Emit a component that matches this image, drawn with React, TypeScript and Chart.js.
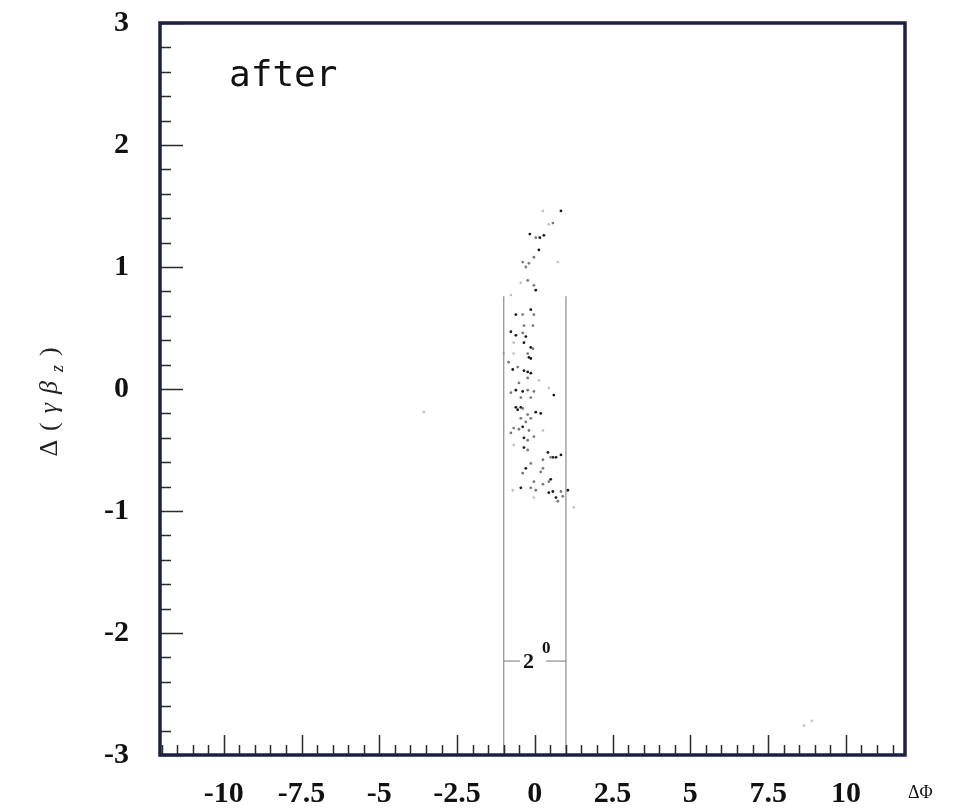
import { useEffect, useRef } from "react";
import { Chart, registerables } from "chart.js";

Chart.register(...registerables);

// ---- axis ranges & ticks ----
const xMin = -12.05;
const xMax = 11.9;
const yMin = -3;
const yMax = 3;
const xTickLabels = [-10, -7.5, -5, -2.5, 0, 2.5, 5, 7.5, 10];
const yTickLabels = [-3, -2, -1, 0, 1, 2, 3];
const xMajorStep = 2.5;
const xMinorStep = 0.5;
const yMajorStep = 1;
const yMinorStep = 0.2;

// ---- scatter points (ΔΦ, Δ(γβz)), grouped by print darkness ----
const darkPoints: [number, number][] = [
  [0.84, 1.46], [-0.16, 1.27], [0.16, 1.24], [0.29, 1.26], [0.13, 1.14], [0.03, 0.81],
  [-0.13, 0.65], [-0.61, 0.61], [-0.77, 0.47], [-0.61, 0.44], [-0.29, 0.43], [-0.35, 0.38],
  [-0.13, 0.34], [-0.19, 0.26], [-0.13, 0.25], [-0.71, 0.16], [-0.35, 0.15], [-0.23, 0.14],
  [-0.13, 0.13], [-0.61, -0.01], [-0.39, -0.02], [0.61, -0.05], [-0.61, -0.15], [-0.45, -0.15],
  [-0.55, -0.17], [0.03, -0.19], [0.19, -0.2], [-0.39, -0.31], [-0.35, -0.4], [-0.35, -0.48],
  [0.42, -0.52], [0.58, -0.56], [0.68, -0.56], [0.84, -0.54], [-0.29, -0.65], [0.51, -0.74],
  [-0.45, -0.81], [0.45, -0.85], [0.58, -0.84], [0.68, -0.89], [1.06, -0.83],
];
const midPoints: [number, number][] = [
  [0.58, 1.36], [0.03, 1.24], [-0.03, 1.08], [-0.39, 1.04], [-0.19, 1.03], [-0.29, 1.0],
  [-0.23, 0.89], [-0.03, 0.85], [-0.39, 0.61], [-0.03, 0.61], [-0.35, 0.52], [-0.06, 0.52],
  [-0.39, 0.46], [-0.06, 0.33], [-0.23, 0.29], [-0.84, 0.22], [-0.55, 0.18], [-0.23, 0.09],
  [-0.51, 0.05], [-0.23, -0.01], [-0.03, -0.02], [-0.77, -0.03], [-0.45, -0.07], [-0.13, -0.07],
  [-0.39, -0.16], [-0.23, -0.21], [-0.45, -0.24], [-0.29, -0.27], [-0.13, -0.24], [-0.68, -0.32],
  [-0.51, -0.33], [-0.77, -0.36], [-0.19, -0.34], [-0.23, -0.42], [-0.03, -0.39], [-0.23, -0.5],
  [0.51, -0.56], [0.26, -0.58], [-0.13, -0.61], [0.26, -0.65], [-0.39, -0.69], [0.19, -0.68],
  [0.45, -0.76], [-0.03, -0.76], [0.26, -0.78], [-0.13, -0.81], [0.03, -0.83], [0.84, -0.84],
  [0.9, -0.88], [0.74, -0.92],
];
const lightPoints: [number, number][] = [
  [0.26, 1.46], [0.45, 1.35], [0.74, 1.04], [-0.45, 0.87], [-0.77, 0.77], [-0.68, 0.38],
  [-0.68, 0.29], [-1.0, 0.29], [0.13, 0.07], [0.45, 0.01], [0.26, -0.34], [-0.68, -0.46],
  [-0.71, -0.83], [-0.03, -0.89], [1.25, -0.97], [-3.57, -0.19], [8.65, -2.76], [8.9, -2.72],
];

// ---- acceptance window (2 degrees wide) ----
const windowLeftLine: [number, number][] = [[-1, -3], [-1, 0.76]];
const windowRightLine: [number, number][] = [[1, -3], [1, 0.76]];
const windowMarkLeft: [number, number][] = [[-1, -2.23], [-0.48, -2.23]];
const windowMarkRight: [number, number][] = [[0.36, -2.23], [1, -2.23]];
const windowLabel = { main: "2", sup: "0", x: -0.38, y: -2.29, supX: 0.23, supY: -2.16 };
const panelLabel = { text: "after", x: -9.83, y: 2.48 };

const toXY = (arr: [number, number][]) => arr.map(([x, y]) => ({ x, y }));

const decorPlugin = {
  id: "decor",
  afterDraw(chart: any) {
    const { ctx, chartArea: a, scales } = chart;
    const xs = scales.x;
    const ys = scales.y;
    ctx.save();

    // inward tick marks
    ctx.strokeStyle = "#2b2b2b";
    ctx.lineWidth = 1.5;
    ctx.beginPath();
    const xi0 = Math.ceil(xMin / xMinorStep - 1e-9);
    const xi1 = Math.floor(xMax / xMinorStep + 1e-9);
    for (let i = xi0; i <= xi1; i++) {
      const v = i * xMinorStep;
      const r = v / xMajorStep;
      const major = Math.abs(r - Math.round(r)) < 1e-6;
      const px = Math.round(xs.getPixelForValue(v)) + 0.5;
      ctx.moveTo(px, a.bottom);
      ctx.lineTo(px, a.bottom - (major ? 20 : 10));
    }
    const yi0 = Math.ceil(yMin / yMinorStep - 1e-9);
    const yi1 = Math.floor(yMax / yMinorStep + 1e-9);
    for (let i = yi0; i <= yi1; i++) {
      const v = i * yMinorStep;
      const r = v / yMajorStep;
      const major = Math.abs(r - Math.round(r)) < 1e-6;
      const py = Math.round(ys.getPixelForValue(v)) + 0.5;
      ctx.moveTo(a.left, py);
      ctx.lineTo(a.left + (major ? 23 : 11), py);
    }
    ctx.stroke();

    // frame
    ctx.strokeStyle = "#1c2142";
    ctx.lineWidth = 3.5;
    ctx.strokeRect(a.left, a.top, a.right - a.left, a.bottom - a.top);

    // panel label
    ctx.fillStyle = "#111";
    ctx.font = '36px "DejaVu Sans Mono"';
    ctx.textBaseline = "alphabetic";
    ctx.textAlign = "left";
    ctx.fillText(panelLabel.text, xs.getPixelForValue(panelLabel.x), ys.getPixelForValue(panelLabel.y));

    // 2° label
    ctx.font = 'bold 22px "Liberation Serif"';
    ctx.fillText(windowLabel.main, xs.getPixelForValue(windowLabel.x), ys.getPixelForValue(windowLabel.y));
    ctx.font = 'bold 17px "Liberation Serif"';
    ctx.fillText(windowLabel.sup, xs.getPixelForValue(windowLabel.supX), ys.getPixelForValue(windowLabel.supY));

    // x-axis title ΔΦ
    ctx.font = '18px "Liberation Serif"';
    ctx.fillText("ΔΦ", a.right + 3, a.bottom + 43);

    // y-axis title Δ(γβz), rotated
    const parts: { t: string; font: string; dy: number }[] = [
      { t: "Δ", font: '26px "Liberation Serif"', dy: 0 },
      { t: "(", font: '26px "Liberation Serif"', dy: 0 },
      { t: "γ", font: 'italic 26px "Liberation Serif"', dy: 0 },
      { t: "β", font: 'italic 26px "Liberation Serif"', dy: 0 },
      { t: "z", font: 'italic 18px "Liberation Serif"', dy: 6 },
      { t: ")", font: '26px "Liberation Serif"', dy: 0 },
    ];
    const gap = 9;
    let total = 0;
    const widths = parts.map((p) => {
      ctx.font = p.font;
      const w = ctx.measureText(p.t).width;
      total += w;
      return w;
    });
    total += gap * (parts.length - 1);
    ctx.translate(a.left - 103, (a.top + a.bottom) / 2 + 13);
    ctx.rotate(-Math.PI / 2);
    let cx = -total / 2;
    parts.forEach((p, i) => {
      ctx.font = p.font;
      ctx.fillStyle = "#222";
      ctx.fillText(p.t, cx, p.dy);
      cx += widths[i] + gap;
    });
    ctx.restore();
  },
};

export default function App() {
  const ref = useRef<HTMLCanvasElement | null>(null);

  useEffect(() => {
    document.body.style.margin = "0";
    if (!ref.current) return;
    const lineDs = (data: [number, number][]) => ({
      type: "scatter" as const,
      data: toXY(data),
      showLine: true,
      borderColor: "#8c8c8c",
      borderWidth: 1.2,
      pointRadius: 0,
      pointHoverRadius: 0,
      fill: false,
    });
    const pointDs = (data: [number, number][], color: string) => ({
      type: "scatter" as const,
      data: toXY(data),
      backgroundColor: color,
      borderWidth: 0,
      pointRadius: 1.4,
      pointHoverRadius: 1.4,
    });
    const chart = new Chart(ref.current, {
      type: "scatter",
      data: {
        datasets: [
          lineDs(windowLeftLine),
          lineDs(windowRightLine),
          lineDs(windowMarkLeft),
          lineDs(windowMarkRight),
          pointDs(lightPoints, "#c2c2c2"),
          pointDs(midPoints, "#7a7a7a"),
          pointDs(darkPoints, "#1a1a1a"),
        ],
      },
      options: {
        animation: false,
        responsive: true,
        maintainAspectRatio: false,
        layout: { padding: { top: 23, right: 59, left: 0, bottom: 0 } },
        plugins: { legend: { display: false }, tooltip: { enabled: false } },
        scales: {
          x: {
            type: "linear",
            position: "bottom",
            min: xMin,
            max: xMax,
            grid: { display: false, drawTicks: false },
            border: { display: false },
            afterBuildTicks: (s: any) => {
              s.ticks = xTickLabels.map((v) => ({ value: v }));
            },
            afterFit: (s: any) => {
              s.height = 57;
              s.paddingLeft = 0;
              s.paddingRight = 0;
            },
            ticks: {
              autoSkip: false,
              maxRotation: 0,
              padding: 21,
              color: "#111",
              font: { family: "Liberation Serif", size: 30, weight: "bold" },
              callback: (v: any) => String(v),
            },
          },
          y: {
            type: "linear",
            min: yMin,
            max: yMax,
            grid: { display: false, drawTicks: false },
            border: { display: false },
            afterBuildTicks: (s: any) => {
              s.ticks = yTickLabels.map((v) => ({ value: v }));
            },
            afterFit: (s: any) => {
              s.width = 160;
              s.paddingTop = 0;
              s.paddingBottom = 0;
            },
            ticks: {
              padding: 31,
              color: "#111",
              font: { family: "Liberation Serif", size: 30, weight: "bold" },
              callback: (v: any) => String(v),
            },
          },
        },
      },
      plugins: [decorPlugin],
    } as any);
    return () => chart.destroy();
  }, []);

  return (
    <div style={{ width: 964, height: 812, position: "relative", background: "#fff" }}>
      <canvas ref={ref} style={{ display: "block" }} />
    </div>
  );
}
